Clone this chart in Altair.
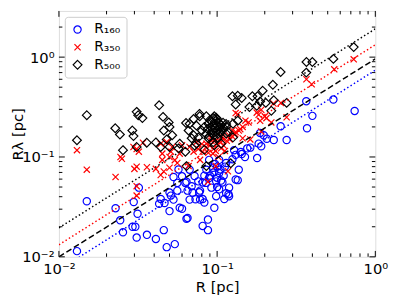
import altair as alt
import pandas as pd

# ---------------- data ----------------
r160_R = [0.013, 0.015, 0.0228, 0.0244, 0.0254, 0.0297, 0.032, 0.0314, 0.0292, 0.0304,
          0.031, 0.036, 0.041, 0.046, 0.048, 0.054, 0.043, 0.0465, 0.050, 0.051,
          0.053, 0.053, 0.050, 0.056, 0.058, 0.060, 0.065, 0.067, 0.070, 0.073,
          0.078, 0.078, 0.083, 0.0875, 0.081, 0.0875, 0.096, 0.114, 0.118, 0.135,
          0.064, 0.056, 0.076, 0.044, 0.057, 0.060, 0.063, 0.064, 0.128, 0.143,
          0.150, 0.179, 0.366, 0.543, 0.74, 0.40, 0.37, 0.252, 0.275, 0.228,
          0.206, 0.197, 0.187, 0.183, 0.19, 0.162, 0.155, 0.0855, 0.094, 0.103,
          0.089, 0.0986, 0.108, 0.081, 0.092, 0.103, 0.119, 0.077, 0.131, 0.137,
          0.141, 0.114, 0.072, 0.069, 0.067, 0.119, 0.111, 0.081, 0.0986, 0.103,
          0.089, 0.09, 0.095, 0.1, 0.105, 0.097, 0.085, 0.11, 0.1, 0.106,
          0.112, 0.083, 0.1, 0.131, 0.125, 0.065]
r160_L = [0.0114, 0.036, 0.0307, 0.0232, 0.0176, 0.0354, 0.0493, 0.027, 0.020, 0.020,
          0.0156, 0.0166, 0.0151, 0.0185, 0.0125, 0.0134, 0.034, 0.0346, 0.0287, 0.041,
          0.0374, 0.063, 0.044, 0.046, 0.031, 0.0303, 0.0245, 0.0374, 0.044, 0.0377,
          0.0374, 0.046, 0.035, 0.0236, 0.0204, 0.0185, 0.031, 0.0433, 0.0424, 0.0586,
          0.0565, 0.055, 0.057, 0.038, 0.075, 0.064, 0.055, 0.024, 0.117, 0.107,
          0.100, 0.0975, 0.362, 0.376, 0.289, 0.258, 0.194, 0.203, 0.148, 0.148,
          0.152, 0.165, 0.174, 0.136, 0.128, 0.124, 0.122, 0.0746, 0.078, 0.069,
          0.0615, 0.057, 0.0556, 0.0556, 0.0493, 0.0474, 0.0493, 0.0443, 0.0595, 0.0746,
          0.112, 0.087, 0.0645, 0.051, 0.0746, 0.0405, 0.0379, 0.0379, 0.0405, 0.0935,
          0.0935, 0.065, 0.07, 0.062, 0.075, 0.085, 0.055, 0.065, 0.05, 0.058,
          0.08, 0.065, 0.08, 0.105, 0.095, 0.046]

r350_R = [0.013, 0.015, 0.0228, 0.0245, 0.025, 0.0296, 0.032, 0.031, 0.034, 0.030,
          0.031, 0.036, 0.041, 0.044, 0.045, 0.051, 0.052, 0.054, 0.046, 0.044,
          0.050, 0.031, 0.031, 0.056, 0.73, 0.55, 0.367, 0.396, 0.253, 0.227,
          0.275, 0.22, 0.19, 0.178, 0.183, 0.20, 0.187, 0.158, 0.162, 0.19,
          0.135, 0.131, 0.205, 0.098, 0.117, 0.0875, 0.045, 0.05, 0.058, 0.067,
          0.074, 0.0855, 0.092, 0.108, 0.119, 0.151, 0.066, 0.078, 0.094, 0.106,
          0.071, 0.081, 0.06, 0.048, 0.085, 0.09, 0.095, 0.1, 0.105, 0.092,
          0.088, 0.098, 0.11, 0.115, 0.12, 0.125, 0.13, 0.08, 0.076, 0.102,
          0.112, 0.14, 0.145, 0.125, 0.107, 0.097, 0.131, 0.137, 0.145]
r350_L = [0.117, 0.0746, 0.063, 0.100, 0.096, 0.126, 0.113, 0.120, 0.139, 0.076,
          0.080, 0.079, 0.076, 0.136, 0.108, 0.113, 0.126, 0.093, 0.0715, 0.066,
          0.078, 0.051, 0.041, 0.087, 0.95, 0.755, 0.60, 0.535, 0.348, 0.343,
          0.25, 0.222, 0.297, 0.278, 0.265, 0.255, 0.23, 0.222, 0.15, 0.18,
          0.268, 0.178, 0.245, 0.081, 0.072, 0.0565, 0.0935, 0.10, 0.108, 0.126,
          0.141, 0.136, 0.153, 0.153, 0.164, 0.231, 0.081, 0.0935, 0.108, 0.122,
          0.113, 0.113, 0.131, 0.141, 0.125, 0.13, 0.12, 0.135, 0.14, 0.145,
          0.11, 0.115, 0.13, 0.145, 0.15, 0.16, 0.17, 0.135, 0.12, 0.1,
          0.115, 0.19, 0.2, 0.185, 0.16, 0.145, 0.276, 0.184, 0.154]

r500_R = [0.013, 0.015, 0.0227, 0.0243, 0.0254, 0.0291, 0.0296, 0.031, 0.0317, 0.0337,
          0.031, 0.0359, 0.043, 0.0455, 0.041, 0.046, 0.0494, 0.05, 0.052, 0.048,
          0.0636, 0.066, 0.0776, 0.0855, 0.096, 0.114, 0.125, 0.131, 0.143, 0.167,
          0.117, 0.106, 0.083, 0.044, 0.05, 0.058, 0.063, 0.074, 0.071, 0.73,
          0.543, 0.367, 0.40, 0.366, 0.252, 0.225, 0.275, 0.228, 0.194, 0.18,
          0.187, 0.203, 0.16, 0.178, 0.22, 0.135, 0.122, 0.126, 0.114, 0.101,
          0.0945, 0.088, 0.076, 0.069, 0.057, 0.064, 0.072, 0.0855, 0.096, 0.0773,
          0.0986, 0.109, 0.114, 0.126, 0.135, 0.071, 0.067, 0.074, 0.08,
          0.085, 0.087, 0.088, 0.09, 0.091, 0.092, 0.093, 0.094, 0.095, 0.096,
          0.097, 0.098, 0.099, 0.1, 0.101, 0.102, 0.103, 0.104, 0.105, 0.106,
          0.108, 0.083, 0.089, 0.095, 0.1, 0.11]
r500_L = [0.147, 0.262, 0.194, 0.168, 0.117, 0.184, 0.162, 0.283, 0.262, 0.245,
          0.126, 0.139, 0.329, 0.252, 0.14, 0.184, 0.222, 0.20, 0.165, 0.15,
          0.219, 0.184, 0.256, 0.256, 0.256, 0.214, 0.405, 0.336, 0.39, 0.405,
          0.178, 0.136, 0.118, 0.126, 0.126, 0.136, 0.113, 0.136, 0.165, 1.26,
          0.96, 0.894, 0.894, 0.70, 0.71, 0.528, 0.348, 0.37, 0.461, 0.405,
          0.36, 0.348, 0.316, 0.325, 0.29, 0.41, 0.0866, 0.157, 0.172, 0.157,
          0.14, 0.154, 0.157, 0.154, 0.122, 0.081, 0.13, 0.081, 0.131, 0.27,
          0.247, 0.22, 0.201, 0.215, 0.231, 0.24, 0.215, 0.206, 0.184,
          0.17, 0.19, 0.215, 0.235, 0.2, 0.175, 0.225, 0.185, 0.21, 0.165,
          0.195, 0.23, 0.18, 0.205, 0.17, 0.22, 0.19, 0.2, 0.175, 0.21,
          0.185, 0.2, 0.16, 0.245, 0.24, 0.195]

series_names = ["R₁₆₀", "R₃₅₀", "R₅₀₀"]
series_colors = ["#0000ff", "#ff0000", "#000000"]
series_sizes = [55, 40, 80]

# fitted relations: value at R=0.01 and at R=1
line_R = [0.01, 1.0]
line_k500 = [0.0195, 1.92]
line_k350 = [0.0132, 1.33]
line_one = [0.010, 0.96]
line_k160 = [0.0074, 0.74]

x_major = [0.01, 0.1, 1.0]
x_minor = [0.02, 0.03, 0.04, 0.05, 0.06, 0.07, 0.08, 0.09,
           0.2, 0.3, 0.4, 0.5, 0.6, 0.7, 0.8, 0.9]
y_major = [0.01, 0.1, 1.0]
y_minor = [0.02, 0.03, 0.04, 0.05, 0.06, 0.07, 0.08, 0.09,
           0.2, 0.3, 0.4, 0.5, 0.6, 0.7, 0.8, 0.9, 2.0]

# ---------------- chart ----------------
W, H = 323, 251
FONT = "DejaVu Sans"

pts = pd.concat([
    pd.DataFrame({"R": r160_R, "L": r160_L, "series": series_names[0]}),
    pd.DataFrame({"R": r350_R, "L": r350_L, "series": series_names[1]}),
    pd.DataFrame({"R": r500_R, "L": r500_L, "series": series_names[2]}),
], ignore_index=True)

xscale = alt.Scale(type="log", domain=[0.01, 1.0], nice=False)
yscale = alt.Scale(type="log", domain=[0.01, 2.9], nice=False)

label_expr = "datum.value < 0.05 ? '10⁻²' : (datum.value < 0.5 ? '10⁻¹' : '10⁰')"

xaxis = alt.Axis(values=x_major, ticks=False, domain=False, grid=False,
                 labelExpr=label_expr, labelFontSize=15, labelPadding=5,
                 labelColor="black", labelFont=FONT, labelFlush=False,
                 labelOverlap=False,
                 title="R [pc]", titleFontSize=15, titleFontWeight="normal",
                 titleColor="black", titleFont=FONT, titlePadding=3)
yaxis = alt.Axis(values=y_major, ticks=False, domain=False, grid=False,
                 labelExpr=label_expr, labelFontSize=15, labelPadding=5,
                 labelColor="black", labelFont=FONT, labelFlush=False,
                 labelOverlap=False,
                 title="Rλ [pc]", titleFontSize=15, titleFontWeight="normal",
                 titleColor="black", titleFont=FONT, titleX=-34)

points = alt.Chart(pts).mark_point(filled=False, strokeWidth=1.2, opacity=1).encode(
    x=alt.X("R:Q", scale=xscale, axis=xaxis),
    y=alt.Y("L:Q", scale=yscale, axis=yaxis),
    color=alt.Color("series:N",
                    scale=alt.Scale(domain=series_names, range=series_colors),
                    legend=alt.Legend(title=None, orient="top-left", offset=6,
                                      padding=6, strokeColor="#cccccc",
                                      fillColor="white", cornerRadius=3,
                                      labelFontSize=14, labelFont=FONT,
                                      labelColor="black", symbolSize=55,
                                      symbolStrokeWidth=1.2, rowPadding=4,
                                      labelOffset=10)),
    shape=alt.Shape("series:N",
                    scale=alt.Scale(domain=series_names,
                                    range=["circle", "M-1,-1L1,1M-1,1L1,-1",
                                           "M0,-1L1,0L0,1L-1,0Z"]),
                    legend=alt.Legend(title=None, orient="top-left", offset=6)),
    size=alt.Size("series:N",
                  scale=alt.Scale(type="ordinal", domain=series_names, range=series_sizes),
                  legend=None),
)


def fit_line(vals, color, dash):
    df = pd.DataFrame({"R": line_R, "L": vals})
    return alt.Chart(df).mark_line(color=color, strokeWidth=1.5,
                                   strokeDash=dash, clip=True).encode(
        x=alt.X("R:Q", scale=xscale), y=alt.Y("L:Q", scale=yscale))


lines = [
    fit_line(line_k500, "black", [1.5, 2.5]),
    fit_line(line_k350, "#ff0000", [1.5, 2.5]),
    fit_line(line_one, "black", [6, 3]),
    fit_line(line_k160, "#0000ff", [1.5, 2.5]),
]


def xticks(vals, length, bottom):
    df = pd.DataFrame({"R": vals})
    y0, y1 = (H, H - length) if bottom else (0, length)
    return alt.Chart(df).mark_rule(color="black", strokeWidth=1).encode(
        x=alt.X("R:Q", scale=xscale), y=alt.value(y0), y2=alt.value(y1))


def yticks(vals, length, left):
    df = pd.DataFrame({"L": vals})
    x0, x1 = (0, length) if left else (W, W - length)
    return alt.Chart(df).mark_rule(color="black", strokeWidth=1).encode(
        y=alt.Y("L:Q", scale=yscale), x=alt.value(x0), x2=alt.value(x1))


ticks = [
    xticks(x_major, 6, True), xticks(x_minor, 3.5, True),
    xticks(x_major, 6, False), xticks(x_minor, 3.5, False),
    yticks(y_major, 6, True), yticks(y_minor, 3.5, True),
    yticks(y_major, 6, False), yticks(y_minor, 3.5, False),
]

chart = alt.layer(points, *lines, *ticks).properties(
    width=W, height=H,
    autosize=alt.AutoSizeParams(type="none"),
    padding={"left": 52, "top": 0, "right": 16, "bottom": 38},
).configure_view(stroke="black", strokeWidth=1.3).configure(font=FONT)

chart.save("out.html", embed_options={"renderer": "svg", "actions": False})
